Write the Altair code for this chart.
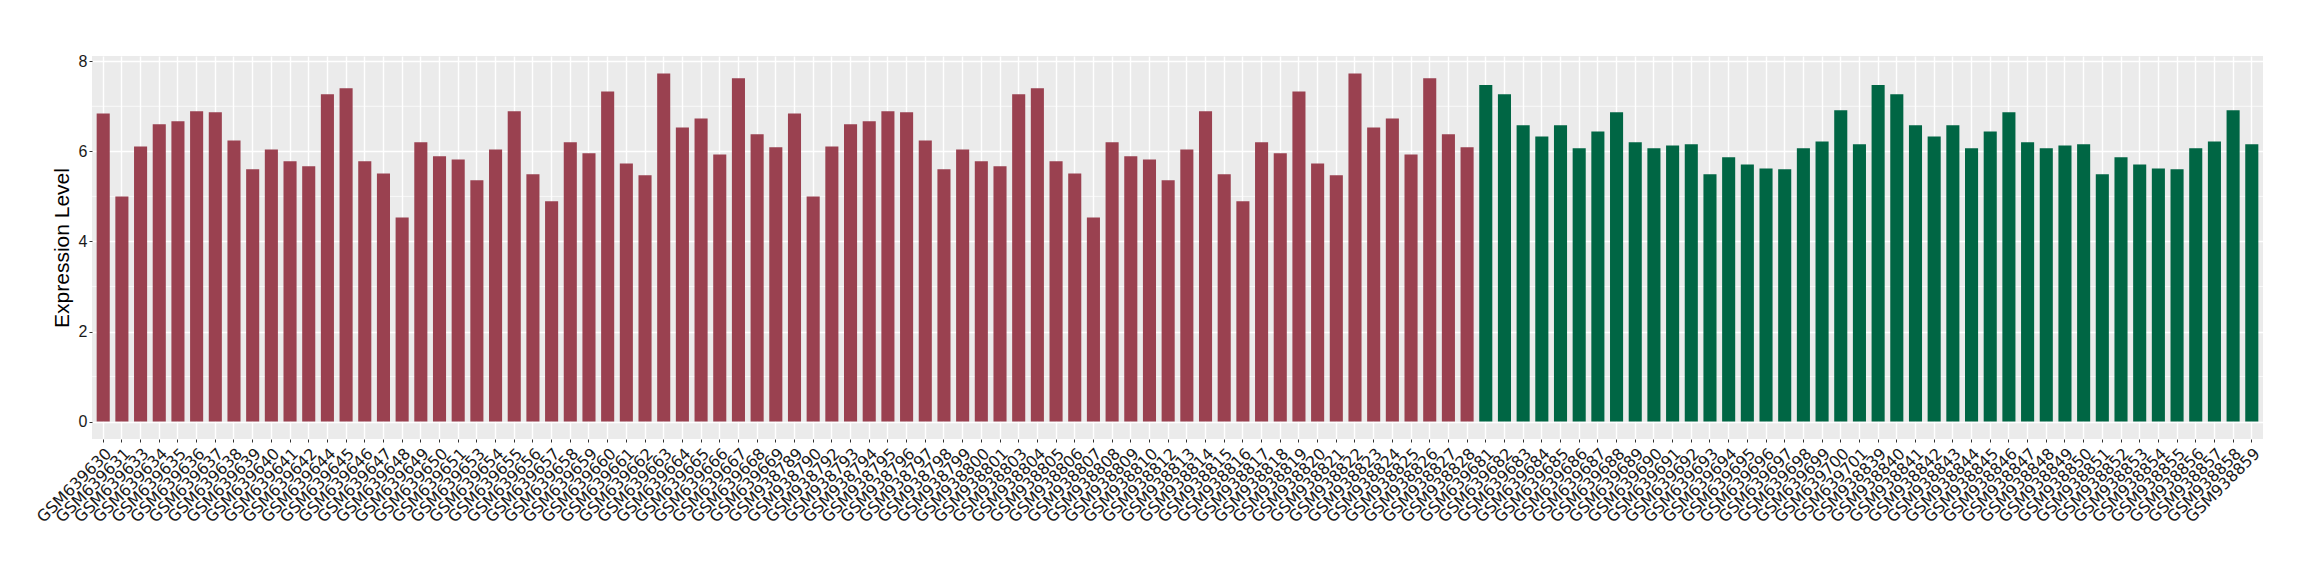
import altair as alt
import pandas as pd

# ---- data ----
samples_red = [
    "GSM639630", "GSM639631", "GSM639633", "GSM639634", "GSM639635", "GSM639636",
    "GSM639637", "GSM639638", "GSM639639", "GSM639640", "GSM639641", "GSM639642",
    "GSM639644", "GSM639645", "GSM639646", "GSM639647", "GSM639648", "GSM639649",
    "GSM639650", "GSM639651", "GSM639653", "GSM639654", "GSM639655", "GSM639656",
    "GSM639657", "GSM639658", "GSM639659", "GSM639660", "GSM639661", "GSM639662",
    "GSM639663", "GSM639664", "GSM639665", "GSM639666", "GSM639667", "GSM639668",
    "GSM639669",
    "GSM938789", "GSM938790", "GSM938792", "GSM938793", "GSM938794", "GSM938795",
    "GSM938796", "GSM938797", "GSM938798", "GSM938799", "GSM938800", "GSM938801",
    "GSM938803", "GSM938804", "GSM938805", "GSM938806", "GSM938807", "GSM938808",
    "GSM938809", "GSM938810", "GSM938812", "GSM938813", "GSM938814", "GSM938815",
    "GSM938816", "GSM938817", "GSM938818", "GSM938819", "GSM938820", "GSM938821",
    "GSM938822", "GSM938823", "GSM938824", "GSM938825", "GSM938826", "GSM938827",
    "GSM938828",
]
values_red = [
    6.84, 5.00, 6.11, 6.60, 6.67, 6.89, 6.87, 6.24, 5.60, 6.04, 5.78, 5.67,
    7.27, 7.40, 5.78, 5.51, 4.53, 6.20, 5.89, 5.82, 5.36, 6.04, 6.89, 5.49,
    4.89, 6.20, 5.96, 7.33, 5.73, 5.47, 7.73, 6.53, 6.73, 5.93, 7.62, 6.38,
    6.09,
    6.84, 5.00, 6.11, 6.60, 6.67, 6.89, 6.87, 6.24, 5.60, 6.04, 5.78, 5.67,
    7.27, 7.40, 5.78, 5.51, 4.53, 6.20, 5.89, 5.82, 5.36, 6.04, 6.89, 5.49,
    4.89, 6.20, 5.96, 7.33, 5.73, 5.47, 7.73, 6.53, 6.73, 5.93, 7.62, 6.38,
    6.09,
]
samples_green = [
    "GSM639681", "GSM639682", "GSM639683", "GSM639684", "GSM639685", "GSM639686",
    "GSM639687", "GSM639688", "GSM639689", "GSM639690", "GSM639691", "GSM639692",
    "GSM639693", "GSM639694", "GSM639695", "GSM639696", "GSM639697", "GSM639698",
    "GSM639699", "GSM639700", "GSM639701",
    "GSM938839", "GSM938840", "GSM938841", "GSM938842", "GSM938843", "GSM938844",
    "GSM938845", "GSM938846", "GSM938847", "GSM938848", "GSM938849", "GSM938850",
    "GSM938851", "GSM938852", "GSM938853", "GSM938854", "GSM938855", "GSM938856",
    "GSM938857", "GSM938858", "GSM938859",
]
values_green = [
    7.47, 7.27, 6.58, 6.33, 6.58, 6.07, 6.44, 6.87, 6.20, 6.07, 6.13, 6.16,
    5.49, 5.87, 5.71, 5.62, 5.60, 6.07, 6.22, 6.91, 6.16,
    7.47, 7.27, 6.58, 6.33, 6.58, 6.07, 6.44, 6.87, 6.20, 6.07, 6.13, 6.16,
    5.49, 5.87, 5.71, 5.62, 5.60, 6.07, 6.22, 6.91, 6.16,
]
groups = ["group1", "group2"]
group_colors = ["#9A4150", "#006644"]
y_ticks = [0, 2, 4, 6, 8]
y_minor = [1, 3, 5, 7]

df = pd.DataFrame({
    "sample": samples_red + samples_green,
    "value": values_red + values_green,
    "group": [groups[0]] * len(samples_red) + [groups[1]] * len(samples_green),
})
minor_df = pd.DataFrame({"y": y_minor})

ymax = max(df["value"])
pad = 0.05 * ymax
ydom = [-pad, ymax + pad]

yscale = alt.Scale(domain=ydom, nice=False, zero=False)

minor = alt.Chart(minor_df).mark_rule(color="white", strokeWidth=0.7).encode(
    y=alt.Y("y:Q", scale=yscale)
)

bars = alt.Chart(df).mark_bar().encode(
    x=alt.X(
        "sample:N",
        sort=None,
        scale=alt.Scale(paddingInner=0.3, paddingOuter=0.25),
        axis=alt.Axis(
            title=None,
            labelAngle=-45,
            labelAlign="right",
            labelBaseline="top",
            labelFont="DejaVu Sans",
            labelFontSize=16,
            labelColor="#1a1a1a",
            labelOverlap=False,
            labelPadding=3,
            tickColor="#333333",
            tickSize=3,
            tickWidth=1,
            bandPosition=0.5,
            grid=True,
            gridColor="white",
            gridWidth=1.4,
            domain=False,
        ),
    ),
    y=alt.Y(
        "value:Q",
        scale=yscale,
        axis=alt.Axis(
            title="Expression Level",
            values=y_ticks,
            labelFont="Liberation Sans",
            labelFontSize=16,
            labelColor="#1a1a1a",
            labelPadding=2,
            tickColor="#333333",
            tickSize=3,
            tickWidth=1,
            grid=True,
            gridColor="white",
            gridWidth=1.4,
            domain=False,
            titleFont="Liberation Sans",
            titleFontSize=21,
            titleFontWeight="normal",
            titleColor="black",
            titlePadding=6,
        ),
    ),
    y2=alt.datum(0),
    color=alt.Color(
        "group:N",
        scale=alt.Scale(domain=groups, range=group_colors),
        legend=None,
    ),
)

chart = (
    alt.layer(minor, bars)
    .properties(
        width=2171,
        height=383,
        autosize=alt.AutoSizeParams(type="none"),
        padding={"left": 84, "top": 48, "right": 40, "bottom": 120},
        background="white",
    )
    .configure_view(fill="#EBEBEB", stroke=None)
)

chart.save("out.html", embed_options={"renderer": "svg", "actions": False})
